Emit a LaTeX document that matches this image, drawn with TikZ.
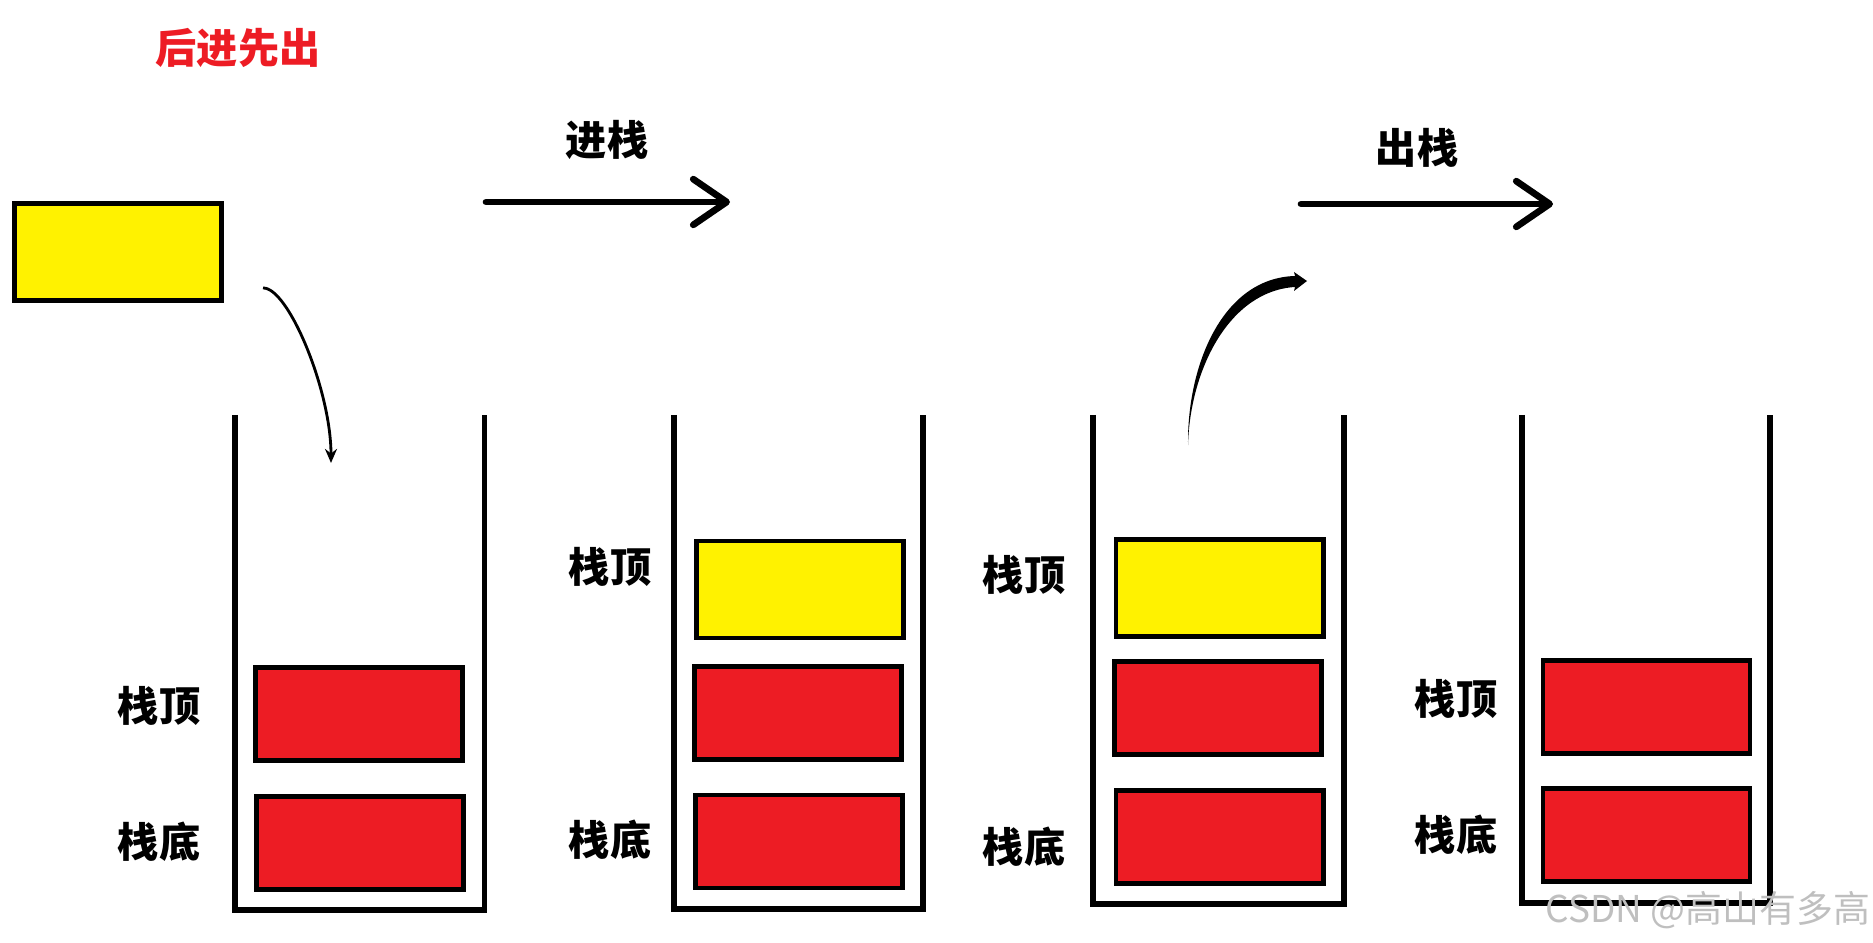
\documentclass[tikz,border=0pt]{standalone}
\usepackage{fontspec}
\newfontfamily\cjk{Noto Sans CJK SC}
\usetikzlibrary{arrows.meta}
\definecolor{sred}{RGB}{237,28,36}
\definecolor{syel}{RGB}{255,242,0}
\begin{document}
\begin{tikzpicture}[x=0.01cm,y=-0.01cm,
  box/.style={draw=black,line width=1.35pt,minimum width=2.07cm,inner sep=0pt,outer sep=0pt},
  redbox/.style={box,fill=sred,minimum height=0.93cm},
  yelbox/.style={box,fill=syel,minimum height=0.97cm},
  lbl/.style={font=\cjk\bfseries\fontsize{11.7pt}{14pt}\selectfont,inner sep=0pt},
  wall/.style={line width=1.45pt},
  bigarrow/.style={line width=1.9pt,line cap=round,-{Straight Barb[length=9.5pt,width=13pt,line cap=round,line join=round]}},
  wm/.style={font=\cjk\fontsize{10.5pt}{12pt}\selectfont,text=black!25,inner sep=0pt}
]
\useasboundingbox (0,0) rectangle (1873,943);

% title
\node[lbl,text=sred] (title) at (238,48) {后进先出};

% free yellow box
\node[yelbox] (free) at (118,252) {};

% push / pop arrows
\coordinate (pushs) at (486,202);
\coordinate (pushe) at (730,202);
\draw[bigarrow] (pushs) -- (pushe);
\node[lbl] (pushl) at (607,140) {进栈};

\coordinate (pops) at (1301,204);
\coordinate (pope) at (1553,204);
\draw[bigarrow] (pops) -- (pope);
\node[lbl] (popl) at (1417,148) {出栈};

% stacks
\draw[wall] (235,415) -- (235,910) -- (484.5,910) -- (484.5,415);
\draw[wall] (674,415) -- (674,909) -- (923,909) -- (923,415);
\draw[wall] (1093,415) -- (1093,904) -- (1344,904) -- (1344,415);
\draw[wall] (1522,415) -- (1522,903) -- (1770,903) -- (1770,415);

% stack 1
\node[redbox] (s1top) at (359,714) {};
\node[redbox] (s1bot) at (360,843) {};
\node[lbl] (s1tl) at (159,706) {栈顶};
\node[lbl] (s1bl) at (159,842) {栈底};

% stack 2
\node[yelbox] (s2y) at (800,589.5) {};
\node[redbox] (s2top) at (798,713) {};
\node[redbox] (s2bot) at (799,841.5) {};
\node[lbl] (s2tl) at (610,567) {栈顶};
\node[lbl] (s2bl) at (610,840) {栈底};

% stack 3
\node[yelbox] (s3y) at (1219.6,587.7) {};
\node[redbox] (s3top) at (1218,708.3) {};
\node[redbox] (s3bot) at (1219.6,837.3) {};
\node[lbl] (s3tl) at (1024,575) {栈顶};
\node[lbl] (s3bl) at (1024,847) {栈底};

% stack 4
\node[redbox] (s4top) at (1646.5,707.2) {};
\node[redbox] (s4bot) at (1646.5,835) {};
\node[lbl] (s4tl) at (1456,699) {栈顶};
\node[lbl] (s4bl) at (1456,835) {栈底};

% curved arrow: into the stack
\coordinate (c1s) at (263,288);
\coordinate (c1e) at (331,463);
\draw[line width=0.8pt,-{Stealth[length=4pt,width=3.4pt]}] (c1s) .. controls (288,287) and (331,390) .. (c1e);

% curved arrow: out of the stack (tapered)
\coordinate (c2s) at (1188,445);
\coordinate (c2e) at (1307,281);
\fill (c2s) .. controls (1187,366) and (1222,278) .. (1295,276)
  -- (1294,272) -- (c2e) -- (1294,291) -- (1295,287)
  .. controls (1229,291) and (1190,370) .. (c2s) -- cycle;

% watermark
\node[wm] (wmark) at (1708,910) {CSDN @高山有多高};
\end{tikzpicture}
\end{document}
